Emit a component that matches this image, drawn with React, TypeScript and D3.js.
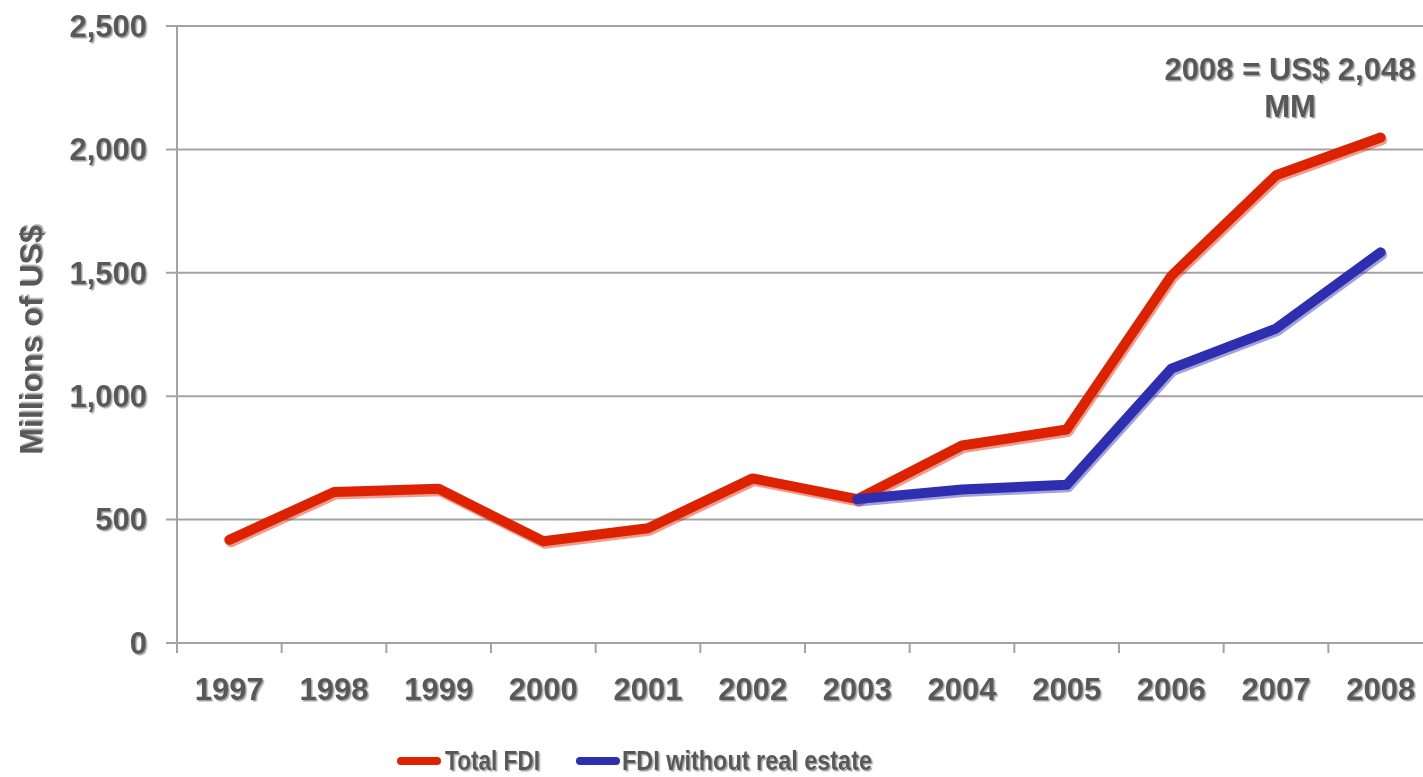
import * as d3 from 'd3';
import * as React from 'react';

const years = ['1997', '1998', '1999', '2000', '2001', '2002', '2003', '2004', '2005', '2006', '2007', '2008'];
const totalFdi = [418, 612, 625, 412, 465, 667, 583, 800, 865, 1488, 1895, 2048];
const fdiNoRealEstate = [null, null, null, null, null, null, 583, 622, 641, 1112, 1274, 1583];
const yTicks = [0, 500, 1000, 1500, 2000, 2500];

const width = 1423;
const height = 777;
const left = 177;
const right = 1433;
const top = 26;
const bottom = 643;
const font = 'Arial, "Liberation Sans", sans-serif';
const textColor = '#595959';
const gridColor = '#a3a3a3';

export default function App() {
  const x = d3.scaleBand<string>().domain(years).range([left, right]);
  const y = d3.scaleLinear().domain([0, 2500]).range([bottom, top]);
  const cx = (yr: string) => (x(yr) ?? 0) + x.bandwidth() / 2;

  const line = d3
    .line<number | null>()
    .defined((d) => d !== null)
    .x((_, i) => cx(years[i]))
    .y((d) => y(d as number));

  const series = [
    { name: 'Total FDI', values: totalFdi, color: '#dd2200' },
    { name: 'FDI without real estate', values: fdiNoRealEstate, color: '#2e2eb0' },
  ];

  return (
    <svg width={width} height={height} style={{ position: 'absolute', left: 0, top: 0, background: '#fff' }}>
      <defs>
        <filter id="tshadow" x="-5%" y="-5%" width="110%" height="120%">
          <feDropShadow dx="1.5" dy="1.5" stdDeviation="0.6" floodColor="#9a9a9a" floodOpacity="0.9" />
        </filter>
      </defs>

      {/* gridlines + y ticks */}
      {yTicks.map((t) => (
        <g key={t}>
          <line x1={left - 11} x2={right} y1={y(t)} y2={y(t)} stroke={gridColor} strokeWidth={2} />
          <text
            x={147}
            y={y(t)}
            dy="0.35em"
            textAnchor="end"
            fontFamily={font}
            fontWeight="bold"
            fontSize={31}
            fill={textColor}
            filter="url(#tshadow)"
          >
            {d3.format(',')(t)}
          </text>
        </g>
      ))}

      {/* y axis */}
      <line x1={left} x2={left} y1={top} y2={bottom + 10} stroke={gridColor} strokeWidth={2} />

      {/* x ticks */}
      {years.map((yr) => (
        <g key={yr}>
          <line x1={x(yr)} x2={x(yr)} y1={bottom} y2={bottom + 10} stroke={gridColor} strokeWidth={2} />
          <text
            x={cx(yr)}
            y={700}
            textAnchor="middle"
            fontFamily={font}
            fontWeight="bold"
            fontSize={31}
            fill={textColor}
            filter="url(#tshadow)"
          >
            {yr}
          </text>
        </g>
      ))}

      {/* axis title */}
      <text
        transform={`translate(42,340) rotate(-90)`}
        textAnchor="middle"
        fontFamily={font}
        fontWeight="bold"
        fontSize={32}
        fill={textColor}
        filter="url(#tshadow)"
      >
        Millions of US$
      </text>

      {/* lines */}
      {series.map((s) => (
        <g key={s.name}>
          <path
            d={line(s.values) ?? ''}
            fill="none"
            stroke={s.color}
            strokeOpacity={0.45}
            strokeWidth={10}
            strokeLinejoin="round"
            strokeLinecap="round"
            transform="translate(1.5,2.5)"
          />
          <path
            d={line(s.values) ?? ''}
            fill="none"
            stroke={s.color}
            strokeWidth={10}
            strokeLinejoin="round"
            strokeLinecap="round"
          />
        </g>
      ))}

      {/* annotation */}
      <g fontFamily={font} fontWeight="bold" fontSize={31} fill={textColor} textAnchor="middle" filter="url(#tshadow)">
        <text x={1290} y={80}>2008 = US$ 2,048</text>
        <text x={1290} y={117}>MM</text>
      </g>

      {/* legend */}
      <g fontFamily={font} fontWeight="bold" fontSize={27} fill={textColor}>
        <line x1={401} x2={437} y1={761} y2={761} stroke={series[0].color} strokeWidth={8} strokeLinecap="round" />
        <text x={445} y={770} textLength={95} lengthAdjust="spacingAndGlyphs" filter="url(#tshadow)">
          {series[0].name}
        </text>
        <line x1={580} x2={616} y1={761} y2={761} stroke={series[1].color} strokeWidth={8} strokeLinecap="round" />
        <text x={622} y={770} textLength={250} lengthAdjust="spacingAndGlyphs" filter="url(#tshadow)">
          {series[1].name}
        </text>
      </g>
    </svg>
  );
}
